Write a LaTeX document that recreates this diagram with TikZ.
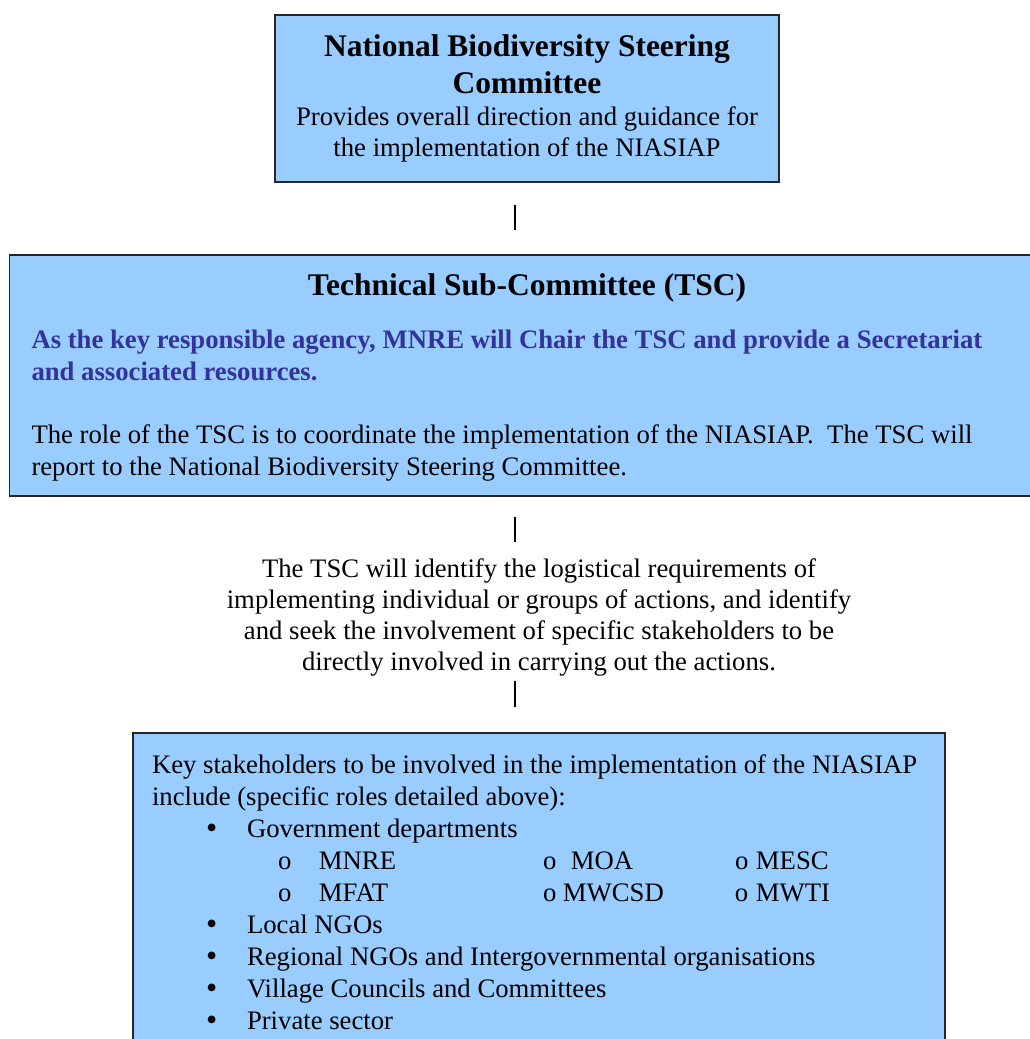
\documentclass[tikz,border=0pt]{standalone}
\usepackage{fontspec}
\setmainfont{Liberation Serif}
\usepackage{tikz}
\usetikzlibrary{positioning}
\definecolor{boxblue}{HTML}{99CCFF}
\definecolor{chairblue}{HTML}{333399}
\def\fixspace{\spaceskip=\fontdimen2\font\xspaceskip=\fontdimen2\font\relax}
\def\bodyfont{\fontsize{26.7}{32}\selectfont\fixspace}
\def\notefont{\fontsize{26.7}{30.7}\selectfont}
\def\headfont{\fontsize{31.5}{37}\selectfont\bfseries\fixspace}
\def\bigbullet{\raisebox{-1pt}{\fontsize{32}{32}\selectfont\textbullet}}
\def\stakeitem#1{\hspace*{54pt}\makebox[41pt][l]{\bigbullet}#1}
\def\deptrow#1#2#3#4{\hspace*{126pt}\makebox[41pt][l]{o}\makebox[224pt][l]{#1}\makebox[20pt][l]{o}\makebox[172pt][l]{\hspace{#4}#2}\makebox[21pt][l]{o}#3}

\begin{document}
\begin{tikzpicture}[x=1pt,y=1pt,node distance=71pt,
			box/.style={draw=black!85,line width=1.8pt,fill=boxblue,inner sep=0pt},
			link/.style={line width=1.8pt}]
			\useasboundingbox (0,0) rectangle (1029,-1039);

			\node[box, minimum width=504pt, minimum height=167pt, text width=480pt, align=center] (nbsc) at (527,-98.5)
				{{\headfont National Biodiversity Steering\\Committee\par}\vspace{1.5pt}
				{\fontsize{26.7}{30.5}\selectfont\fixspace Provides overall direction and guidance for\\the implementation of the NIASIAP\par}};
			\node[box, minimum width=1035pt, minimum height=241pt, text width=991pt, align=left] (tsc) [below=of nbsc]
				{{\centering\headfont\raisebox{-4pt}[\height][\depth]{Technical Sub-Committee (TSC)}\par}\vspace{25pt}
				{\bodyfont\bfseries\color{chairblue}As the key responsible agency, MNRE will Chair the TSC and provide a Secretariat\\and associated resources.\par}\vspace{31pt}
				{\bodyfont The role of the TSC is to coordinate the implementation of the NIASIAP.\ \ The TSC will\\report to the National Biodiversity Steering Committee.\par}};
			\node[align=center, inner sep=0pt, font=\notefont] (note) at (539,-617.5)
				{The TSC will identify the logistical requirements of\\implementing individual or groups of actions, and identify\\and seek the involvement of specific stakeholders to be\\directly involved in carrying out the actions.};
			\node[box, minimum width=812pt, minimum height=319pt, text width=774pt, align=left, font=\bodyfont] (stake) at (539,-892.5)
				{\fixspace\hyphenpenalty=10000 Key stakeholders to be involved in the implementation of the NIASIAP\\
				include (specific roles detailed above):\\
				\stakeitem{Government departments}\\
				\deptrow{MNRE}{MOA}{MESC}{8pt}\\
				\deptrow{MFAT}{MWCSD}{MWTI}{0pt}\\
				\stakeitem{Local NGOs}\\
				\stakeitem{Regional NGOs and Intergovernmental organisations}\\
				\stakeitem{Village Councils and Committees}\\
				\stakeitem{Private sector}};

			\coordinate (l1a) at (515,-205);
			\coordinate (l1b) at (515,-230);
			\coordinate (l2a) at (515,-517);
			\coordinate (l2b) at (515,-542);
			\coordinate (l3a) at (515,-681);
			\coordinate (l3b) at (515,-707);
			\draw[link] (l1a) -- (l1b);
			\draw[link] (l2a) -- (l2b);
			\draw[link] (l3a) -- (l3b);
\end{tikzpicture}
\end{document}
